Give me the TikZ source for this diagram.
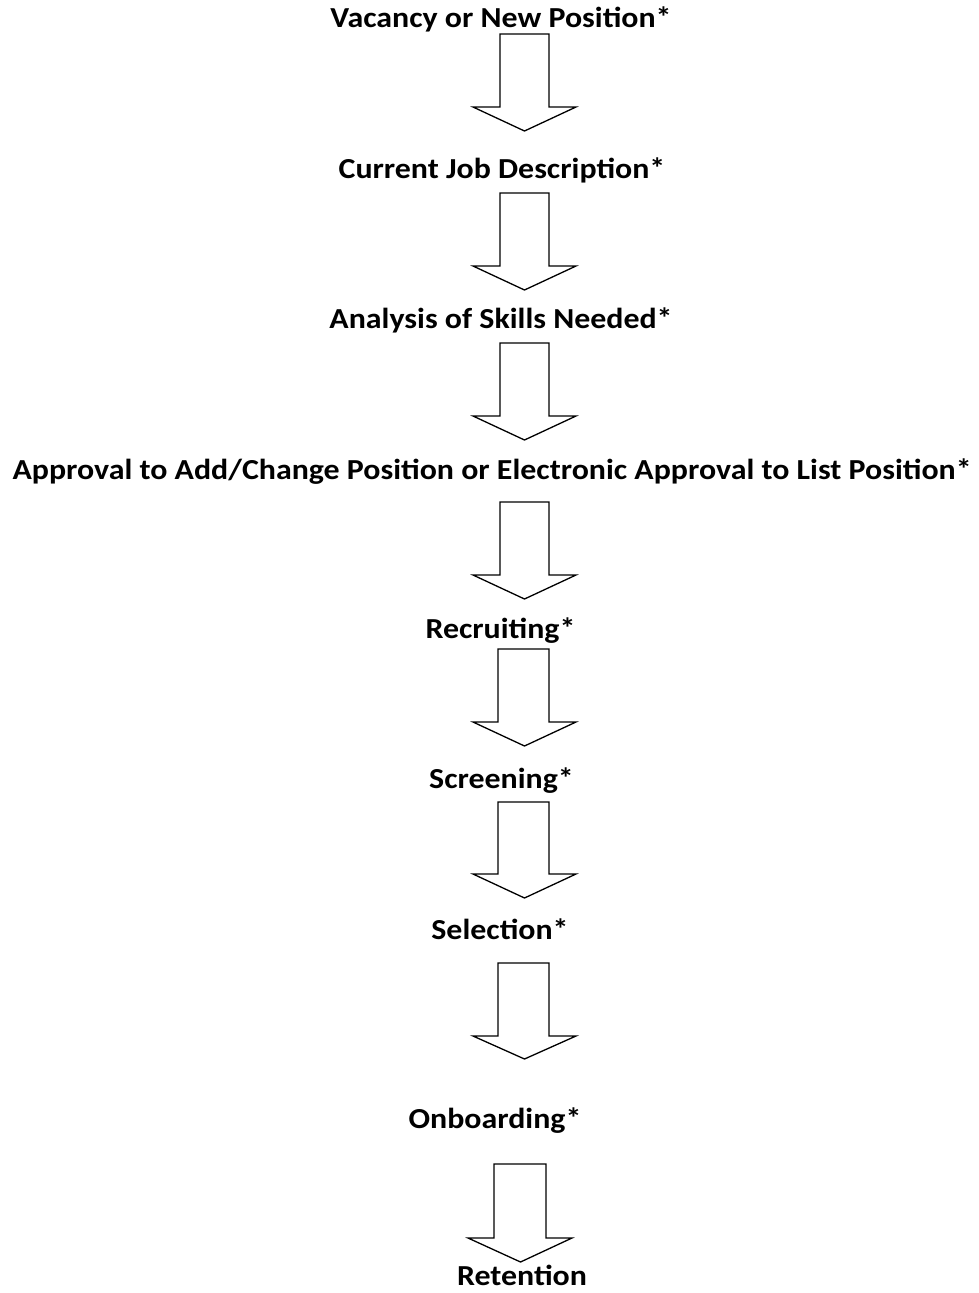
\documentclass[tikz,border=0pt]{standalone}
\usepackage{fontspec}
\setmainfont{Carlito}
\begin{document}
\begin{tikzpicture}[x=1pt,y=-1pt,
  lbl/.style={anchor=base,inner sep=0pt,xscale=1.1,font=\bfseries\fontsize{29}{33}\selectfont},
  blockarrow/.style={draw=black,line width=1.3pt,fill=white,line join=miter}]
\useasboundingbox (0,0) rectangle (979,1293);
\node[lbl] (t1) at (501,27) {Vacancy or New Position*};
\node[lbl] (t2) at (502,178) {Current Job Description*};
\node[lbl] (t3) at (501,328) {Analysis of Skills Needed*};
\node[lbl] (t4) at (492,479) {Approval to Add/Change Position or Electronic Approval to List Position*};
\node[lbl] (t5) at (500.5,638) {Recruiting*};
\node[lbl] (t6) at (501.5,788) {Screening*};
\node[lbl] (t7) at (500,939) {Selection*};
\node[lbl] (t8) at (495,1128) {Onboarding*};
\node[lbl] (t9) at (522,1285) {Retention};
% block arrows: shaft left, shaft right, top, shoulder, tip
\draw[blockarrow] (500,34) -- (549,34) -- (549,107) -- (576,107) -- (524.5,131) -- (473,107) -- (500,107) -- cycle;
\draw[blockarrow] (500,193) -- (549,193) -- (549,266) -- (576,266) -- (524.5,290) -- (473,266) -- (500,266) -- cycle;
\draw[blockarrow] (500,343) -- (549,343) -- (549,416) -- (576,416) -- (524.5,440) -- (473,416) -- (500,416) -- cycle;
\draw[blockarrow] (500,502) -- (549,502) -- (549,575) -- (576,575) -- (524.5,599) -- (473,575) -- (500,575) -- cycle;
\draw[blockarrow] (498,649) -- (549,649) -- (549,722) -- (576,722) -- (524.5,746) -- (473,722) -- (498,722) -- cycle;
\draw[blockarrow] (498,802) -- (549,802) -- (549,874) -- (576,874) -- (524.5,898) -- (473,874) -- (498,874) -- cycle;
\draw[blockarrow] (498,963) -- (549,963) -- (549,1036) -- (576,1036) -- (524.5,1059) -- (473,1036) -- (498,1036) -- cycle;
\draw[blockarrow] (494,1164) -- (546,1164) -- (546,1238) -- (572,1238) -- (520.5,1262) -- (468,1238) -- (494,1238) -- cycle;
\end{tikzpicture}
\end{document}
